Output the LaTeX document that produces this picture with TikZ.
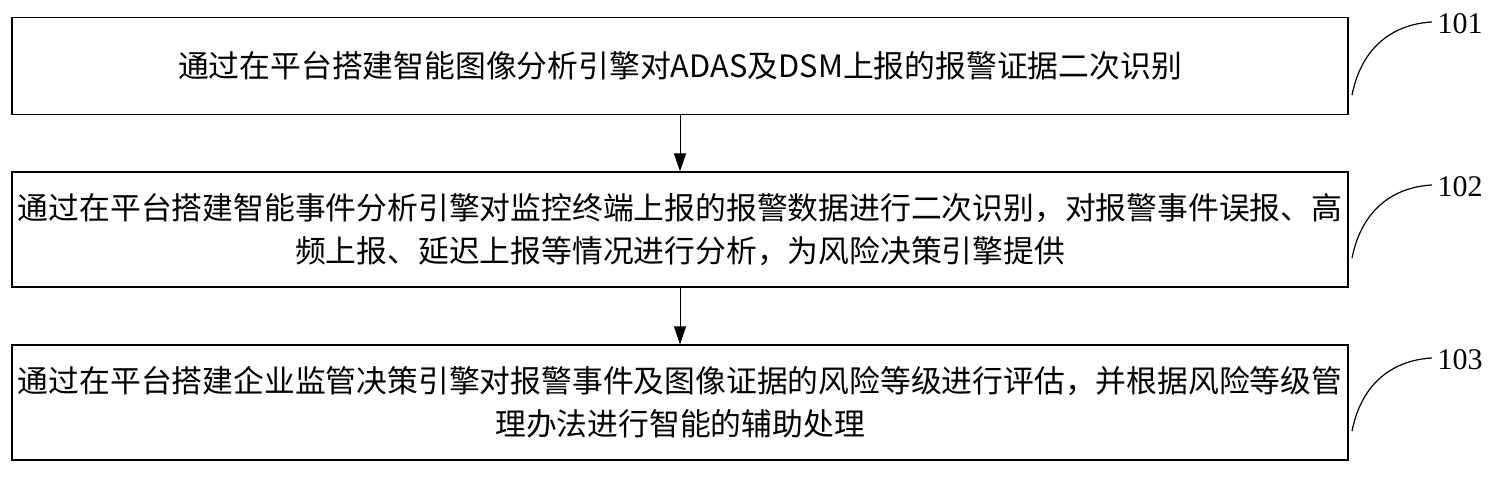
\documentclass[tikz,border=0pt]{standalone}
\usepackage{fontspec}
\setmainfont{Liberation Serif}
\newfontfamily\cjk{Noto Sans CJK SC}
\usetikzlibrary{arrows.meta}
\begin{document}
\begin{tikzpicture}[x=1pt,y=1pt,
  stepbox/.style={draw,line width=1.2pt,minimum width=1336pt,text width=1334pt,align=center,inner sep=0pt,font=\cjk\fontsize{30.8}{43}\selectfont},
  arr/.style={-{Triangle[length=18pt,width=12pt]},line width=1pt},
  lead/.style={line width=1.2pt},
  lab/.style={font=\fontsize{30}{30}\selectfont,anchor=west}]
\useasboundingbox (0,0) rectangle (1511,500);
\node[stepbox,minimum height=97pt] (b1) at (680,434) {通过在平台搭建智能图像分析引擎对ADAS及DSM上报的报警证据二次识别};
\node[stepbox,minimum height=115pt] (b2) at (680,270.5) {通过在平台搭建智能事件分析引擎对监控终端上报的报警数据进行二次识别，对报警事件误报、高\\频上报、延迟上报等情况进行分析，为风险决策引擎提供};
\node[stepbox,minimum height=115pt] (b3) at (680,97.5) {通过在平台搭建企业监管决策引擎对报警事件及图像证据的风险等级进行评估，并根据风险等级管\\理办法进行智能的辅助处理};
\draw[arr] (b1.south) -- (b2.north);
\draw[arr] (b2.south) -- (b3.north);
\coordinate (e1) at (1432,478);
\coordinate (e2) at (1432,315);
\coordinate (e3) at (1432,142);
\draw[lead] (1352,405) .. controls (1362,455) and (1395,476) .. (e1);
\draw[lead] (1352,242) .. controls (1362,292) and (1395,313) .. (e2);
\draw[lead] (1352,69) .. controls (1362,119) and (1395,140) .. (e3);
\node[lab] (l1) at (1434,476) {101};
\node[lab] (l2) at (1434,313) {102};
\node[lab] (l3) at (1434,140) {103};
\end{tikzpicture}
\end{document}
